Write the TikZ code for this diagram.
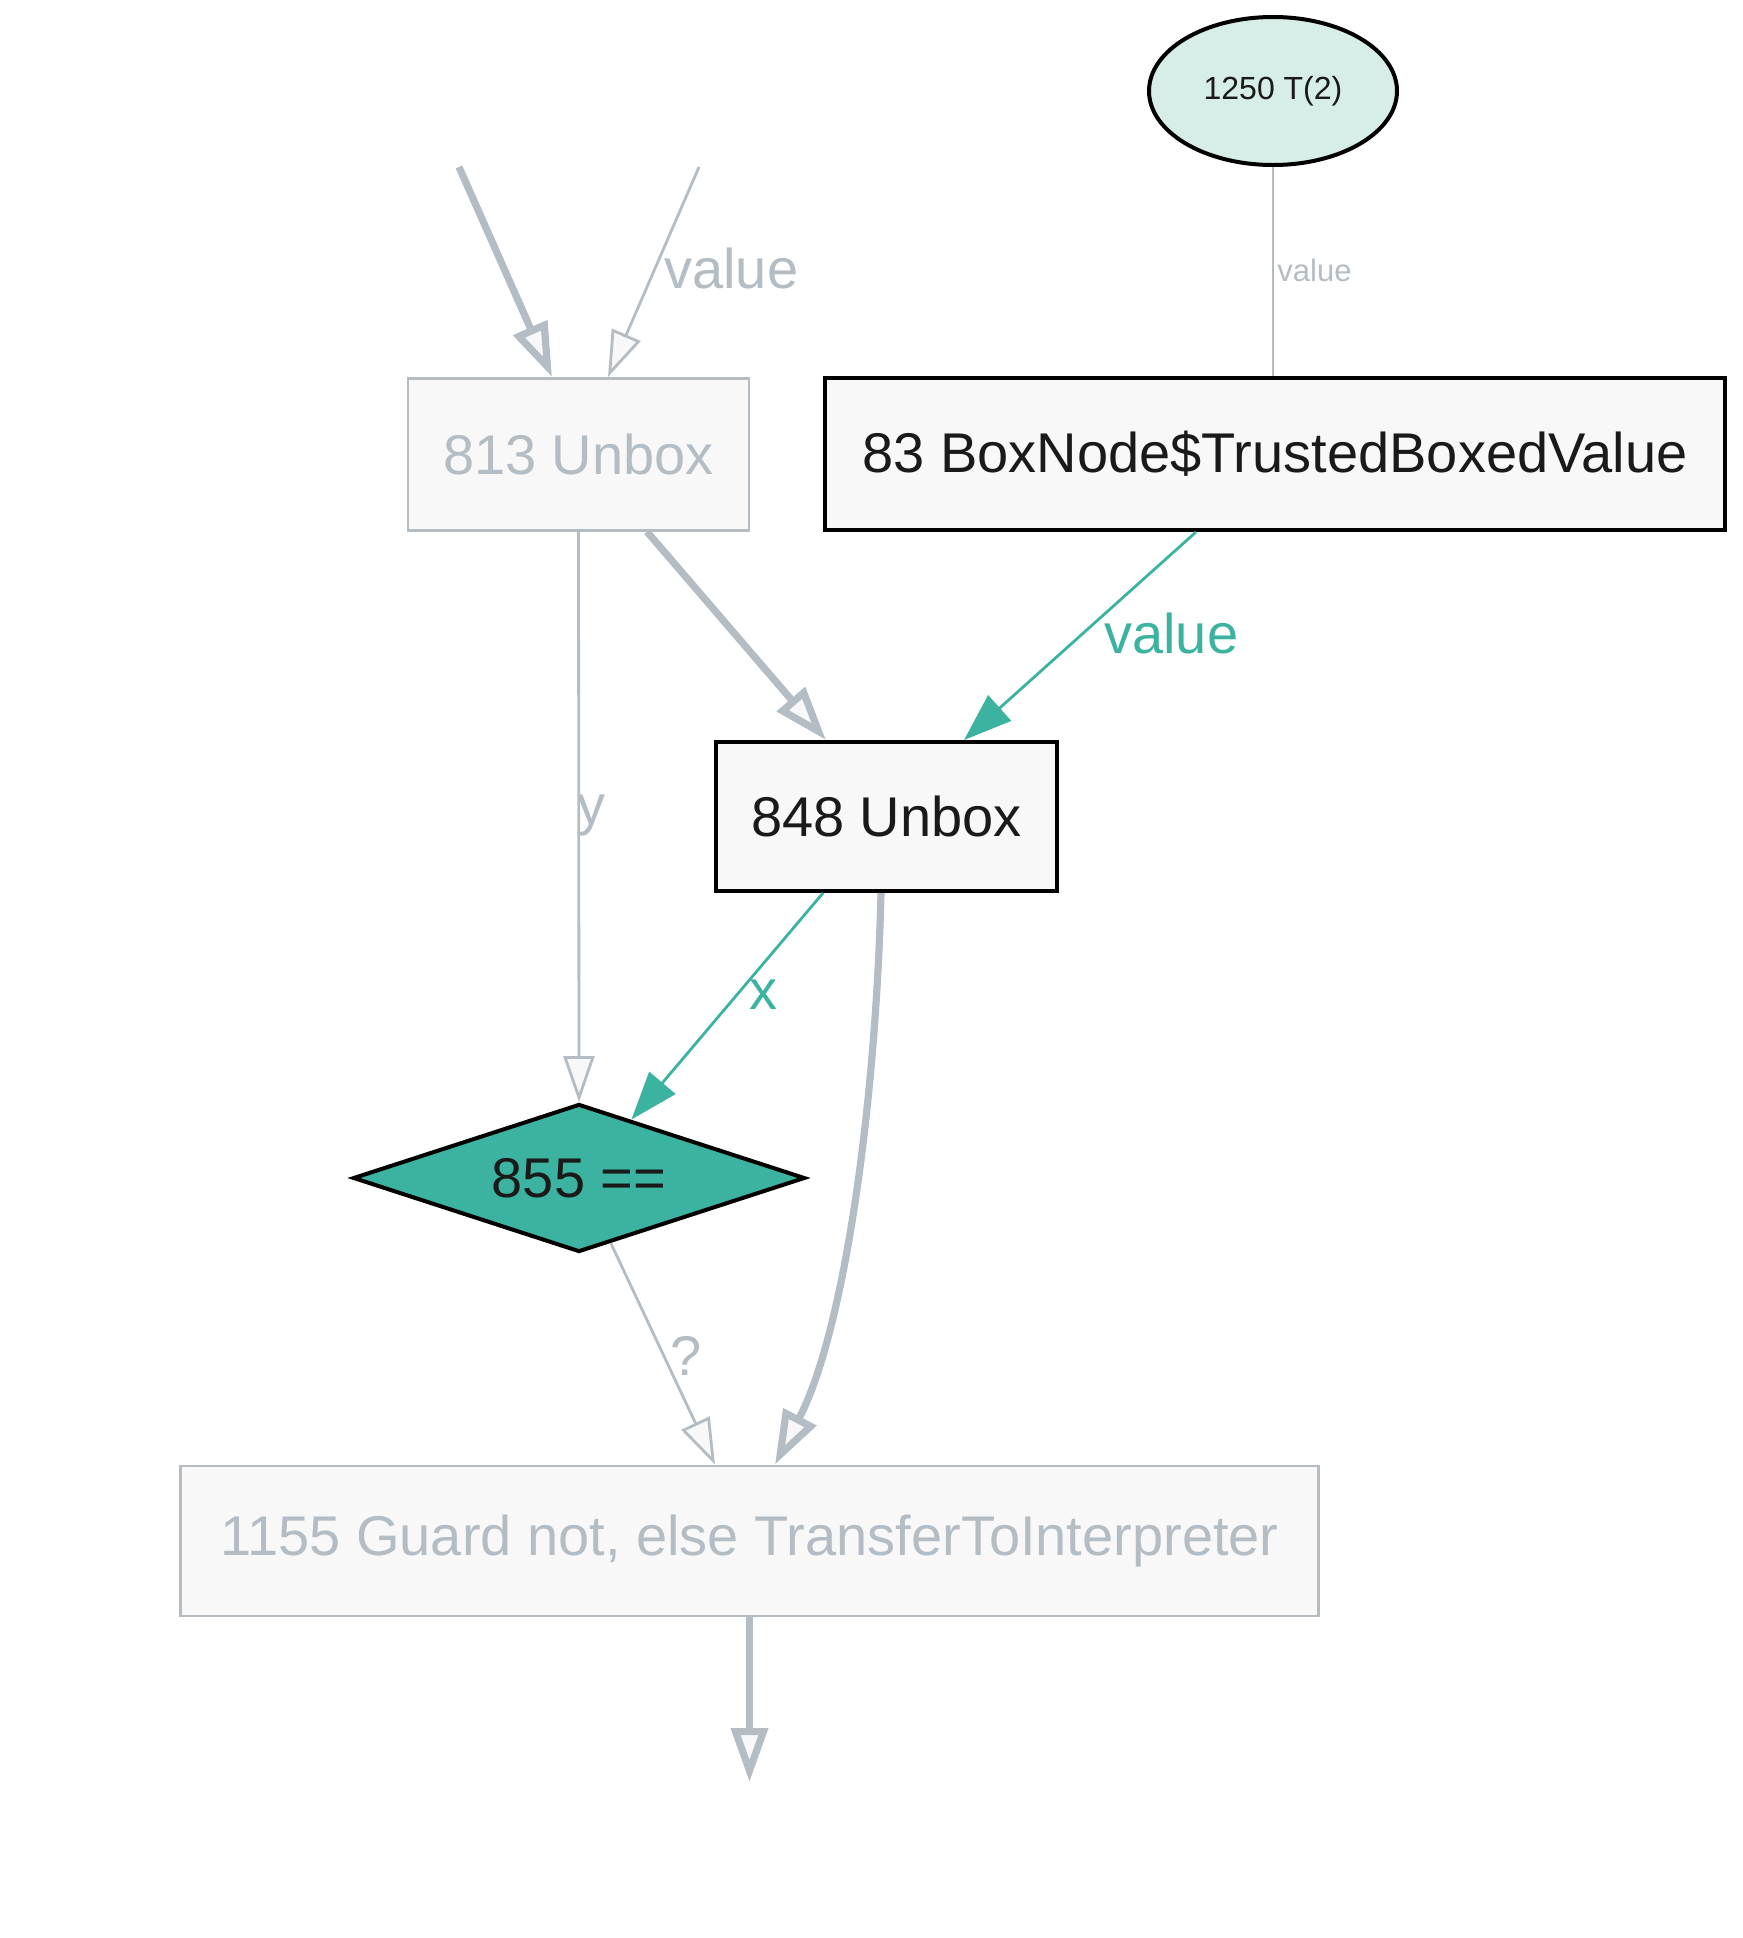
\documentclass[tikz,border=0pt]{standalone}
\usepackage{fontspec}
\setmainfont{Liberation Sans}
\usetikzlibrary{arrows.meta,shapes.geometric,calc}
\definecolor{eg}{HTML}{B4BCC4}
\definecolor{tl}{HTML}{3BB3A0}
\definecolor{efill}{HTML}{D6EDE8}
\definecolor{bfill}{HTML}{F8F8F8}
\definecolor{ink}{HTML}{1A1A1A}
\begin{document}
\begin{tikzpicture}[x=0.5pt,y=-0.5pt,
  bigfont/.style={font=\fontsize{28}{33}\selectfont},
  smallfont/.style={font=\fontsize{16}{19}\selectfont},
  box/.style={draw=black, line width=2pt, fill=bfill, text=ink, inner sep=0pt, bigfont},
  gbox/.style={box, draw=eg, line width=1.4pt, text=eg},
  gthin/.style={draw=eg, line width=1.4pt, -{Triangle[length=23pt,width=15.5pt,fill=bfill]}},
  gthick/.style={draw=eg, line width=3.6pt, -{Triangle[length=27pt,width=18pt,fill=bfill]}},
  tedge/.style={draw=tl, line width=1.4pt, -{Triangle[length=24pt,width=17pt]}},
  glabel/.style={text=eg, inner sep=0pt, bigfont},
  tlabel/.style={text=tl, inner sep=0pt, bigfont}
]
\useasboundingbox (0,0) rectangle (1742,1938);

% nodes
\node[ellipse, draw=black, line width=2pt, fill=efill, text=ink, minimum width=124pt, minimum height=74pt, inner sep=0pt, smallfont] (n1250) at (1273,91) {1250 T(2)};
\node[box, minimum width=450pt, minimum height=76pt] (n83) at (1275,454) {83 BoxNode\$TrustedBoxedValue};
\node[gbox, minimum width=170.5pt, minimum height=76pt] (n813) at (578.5,454.3) {813 Unbox};
\node[box, minimum width=170.5pt, minimum height=74.5pt] (n848) at (886.5,816.5) {848 Unbox};
\node[shape=diamond, aspect=3, draw=black, line width=2pt, fill=tl, text=ink, minimum width=226pt, minimum height=74pt, inner sep=0pt, bigfont] (n855) at (579,1178) {855 ==};
\node[gbox, minimum width=569pt, minimum height=75pt] (n1155) at (749.5,1541) {1155 Guard not, else TransferToInterpreter};

\coordinate (in1) at (459,167);
\coordinate (in2) at (699,167);
\coordinate (out) at (749.5,1782);

% edges
\draw[gthick] (in1) -- ([xshift=-13.25pt]n813.north);
\draw[gthin] (in2) -- ([xshift=14.75pt]n813.north);
\node[glabel, anchor=west] (lv0) at (664,268) {value};

\draw[draw=eg, line width=1.4pt] (n1250.south) -- (n83.north -| n1250.south);
\node[text=eg, inner sep=0pt, anchor=west, font=\fontsize{15.5}{18}\selectfont] (lv1) at (1277,270) {value};

\draw[gthick] ([xshift=34.25pt]n813.south) -- ([xshift=-30.25pt]n848.north);

\draw[gthin] (n813.south) -- (n855.north);
\node[glabel] (ly) at (591,816) {y};

\draw[tedge] ([xshift=-39.5pt]n83.south) -- ([xshift=38.75pt]n848.north);
\node[tlabel, anchor=west] (lv2) at (1104,633) {value};

\draw[tedge] ([xshift=-31.75pt]n848.south) -- ($(n855.north)!0.23!(n855.east)$);
\node[tlabel] (lx) at (763,995) {x};

\draw[gthin] ($(n855.south)!0.14!(n855.east)$) -- ([xshift=-17.25pt]n1155.north);
\node[glabel] (lq) at (686,1356) {?};

\draw[gthick] ([xshift=-2.75pt]n848.south) .. controls (876,1100) and (845,1330) .. ([xshift=12.75pt]n1155.north);

\draw[gthick] (n1155.south) -- (out);
\end{tikzpicture}
\end{document}
